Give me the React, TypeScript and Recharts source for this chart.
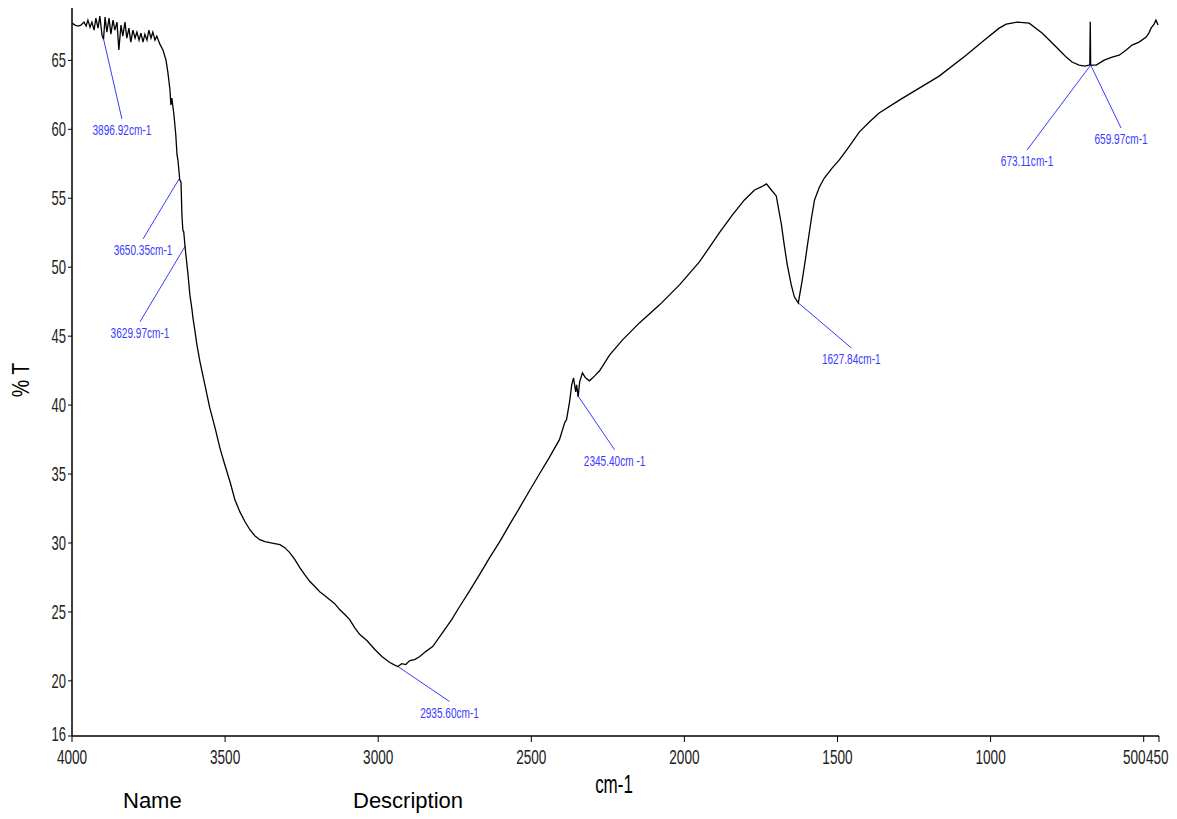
import {
  LineChart,
  Line,
  XAxis,
  YAxis,
  ReferenceLine,
  ReferenceDot,
} from "recharts";

// spectrum, descending wavenumber
const wavenumbers = [
  4000, 3990, 3980, 3971, 3961, 3954, 3948, 3941, 3935, 3928, 3922, 3915, 3909, 3902, 3897, 3892,
  3886, 3879, 3873, 3866, 3860, 3853, 3847, 3840, 3834, 3827, 3821, 3814, 3808, 3801, 3794, 3788,
  3781, 3775, 3768, 3762, 3755, 3749, 3742, 3736, 3729, 3723, 3713, 3703, 3693, 3687, 3680, 3677,
  3674, 3667, 3661, 3657, 3654, 3651, 3648, 3644, 3641, 3638, 3635, 3631, 3628, 3621, 3615, 3608,
  3605, 3599, 3592, 3582, 3566, 3550, 3533, 3517, 3501, 3484, 3468, 3452, 3435, 3419, 3403, 3387,
  3370, 3354, 3338, 3321, 3305, 3289, 3272, 3256, 3240, 3223, 3207, 3191, 3174, 3158, 3142, 3126,
  3109, 3093, 3077, 3060, 3037, 3011, 2988, 2962, 2949, 2936, 2923, 2910, 2897, 2881, 2864, 2845,
  2822, 2799, 2776, 2760, 2734, 2701, 2669, 2636, 2603, 2571, 2538, 2506, 2473, 2440, 2408, 2391,
  2385, 2375, 2368, 2362, 2355, 2352, 2347, 2342, 2333, 2323, 2310, 2293, 2277, 2244, 2202, 2147,
  2081, 2016, 1951, 1886, 1843, 1804, 1771, 1749, 1732, 1716, 1700, 1683, 1674, 1664, 1651, 1641,
  1628, 1615, 1605, 1598, 1585, 1575, 1559, 1543, 1517, 1494, 1461, 1429, 1396, 1364, 1298, 1233,
  1168, 1080, 1021, 972, 949, 913, 874, 832, 802, 776, 753, 734, 711, 692, 679, 676, 674.5, 673.11,
  655, 629, 603, 580, 557, 538, 515, 492, 483, 476, 466, 460, 453,
];

const transmittance = [
  67.7, 67.56, 67.49, 67.56, 67.78, 67.49, 67.92, 67.41, 67.78, 67.2, 68.07, 67.34, 68.21, 66.83, 66.54, 68.14,
  67.05, 68.07, 66.9, 67.92, 67.2, 67.78, 65.75, 67.56, 66.76, 67.78, 66.62, 67.34, 66.33, 67.2, 66.62, 67.05,
  66.47, 66.98, 66.33, 66.9, 66.47, 67.2, 66.62, 67.05, 66.47, 66.76, 66.18, 65.75, 65.02, 64.15, 62.85, 61.76,
  62.27, 61.04, 59.59, 58.14, 57.78, 57.05, 56.33, 56.18, 53.79, 52.7, 52.56, 51.54, 50.89, 49.44, 47.99, 46.9,
  46.33, 45.46, 44.37, 43.14, 41.47, 39.8, 38.36, 36.9, 35.67, 34.44, 33.14, 32.27, 31.54, 30.96, 30.53, 30.24,
  30.1, 30.02, 29.95, 29.88, 29.66, 29.3, 28.79, 28.21, 27.7, 27.2, 26.84, 26.47, 26.18, 25.89, 25.6, 25.17,
  24.81, 24.44, 23.86, 23.36, 22.92, 22.27, 21.76, 21.33, 21.18, 21.04, 21.25, 21.18, 21.47, 21.54, 21.76, 22.12,
  22.48, 23.2, 23.93, 24.44, 25.39, 26.54, 27.7, 28.94, 30.1, 31.33, 32.56, 33.79, 35.02, 36.25, 37.49, 38.72,
  38.94, 40.24, 41.47, 41.98, 40.96, 41.47, 40.6, 41.69, 42.34, 41.98, 41.76, 42.12, 42.49, 43.64, 44.73, 45.96,
  47.27, 48.72, 50.38, 52.49, 53.79, 54.88, 55.6, 55.82, 56.04, 55.6, 55.17, 53.07, 51.62, 50.17, 48.72, 47.85,
  47.41, 49.08, 50.53, 51.62, 53.57, 54.88, 55.82, 56.47, 57.2, 57.78, 58.79, 59.8, 60.53, 61.18, 62.12, 62.99,
  63.86, 65.38, 66.47, 67.34, 67.63, 67.78, 67.7, 66.98, 66.33, 65.75, 65.24, 64.88, 64.66, 64.59, 64.66, 64.7, 67.8, 64.66,
  64.66, 65.02, 65.24, 65.38, 65.75, 66.11, 66.33, 66.69, 66.98, 67.34, 67.63, 67.92, 67.56,
];

const xTicks = [4000, 3500, 3000, 2500, 2000, 1500, 1000, 500, 450];
const yTicks = [16, 20, 25, 30, 35, 40, 45, 50, 55, 60, 65];

// peak labels: peak point -> end of leader line
const peakLabels = ["3896.92cm-1", "3650.35cm-1", "3629.97cm-1", "2935.60cm-1", "2345.40cm -1", "1627.84cm-1", "673.11cm-1", "659.97cm-1"];
const peakWn = [3896.92, 3650.35, 3629.97, 2935.6, 2345.4, 1627.84, 673.11, 673.11];
const peakT = [66.54, 56.4, 51.54, 21.04, 40.6, 47.41, 64.66, 64.66];
const leaderWn = [3837, 3768, 3778, 2767, 2228, 1455, 881, 574];
const leaderT = [60.75, 52.05, 46.04, 18.5, 36.76, 44.15, 58.5, 60.1];

const data = wavenumbers.map((wn, i) => ({ wn, t: transmittance[i] }));

const FONT = "'Liberation Sans', Arial, sans-serif";
const BLUE = "#3a3aff";

function XTick({ x, y, payload }: any) {
  const v = payload.value;
  const anchor = v === 500 ? "end" : v === 450 ? "start" : "middle";
  const dx = v === 500 ? 2 : v === 450 ? -13 : 0;
  return (
    <text transform={`translate(${x + dx},${y + 20}) scale(0.68,1)`} textAnchor={anchor} fontFamily={FONT} fontSize={20} fill="#222">
      {v}
    </text>
  );
}

function YTick({ x, y, payload }: any) {
  const dy = payload.value === 16 ? -2 : 0;
  return (
    <text transform={`translate(${x},${y + dy + 7}) scale(0.65,1)`} textAnchor="end" fontFamily={FONT} fontSize={20} fill="#222">
      {payload.value}
    </text>
  );
}

export default function App() {
  return (
    <div style={{ position: "absolute", left: 0, top: 0, width: 1177, height: 819, background: "#fff" }}>
      <LineChart width={1177} height={819} data={data} margin={{ top: 8, right: 18, left: 0, bottom: 52 }}>
        <XAxis
          dataKey="wn"
          type="number"
          domain={[450, 4000]}
          reversed
          ticks={xTicks}
          interval={0}
          height={31}
          tickSize={6}
          tick={<XTick />}
          axisLine={{ stroke: "#000", strokeWidth: 1.5 }}
          tickLine={{ stroke: "#000" }}
        />
        <YAxis
          type="number"
          domain={[16, 68.8]}
          ticks={yTicks}
          interval={0}
          width={72}
          tickSize={4}
          allowDataOverflow
          tick={<YTick />}
          axisLine={{ stroke: "#000", strokeWidth: 1.5 }}
          tickLine={{ stroke: "#000" }}
        />
        {peakLabels.map((label, i) => (
          <ReferenceLine
            key={"l" + i}
            segment={[
              { x: peakWn[i], y: peakT[i] },
              { x: leaderWn[i], y: leaderT[i] },
            ]}
            stroke={BLUE}
            strokeWidth={1}
            ifOverflow="visible"
          />
        ))}
        <Line
          type="linear"
          dataKey="t"
          stroke="#000"
          strokeWidth={1.3}
          dot={false}
          isAnimationActive={false}
        />
        {peakLabels.map((label, i) => (
          <ReferenceDot
            key={"d" + i}
            x={leaderWn[i]}
            y={leaderT[i]}
            r={0}
            ifOverflow="visible"
            shape={(p: any) => (
              <text transform={`translate(${p.cx},${p.cy + 16}) scale(0.72,1)`} textAnchor="middle" fontFamily={FONT} fontSize={14} fill={BLUE}>
                {label}
              </text>
            )}
          />
        ))}
      </LineChart>
      <svg width={1177} height={819} style={{ position: "absolute", left: 0, top: 0, pointerEvents: "none" }}>
        <text transform="translate(614,793) scale(0.68,1)" textAnchor="middle" fontFamily={FONT} fontSize={25} fill="#000">
          cm-1
        </text>
        <text transform="translate(29,380) rotate(-90) scale(0.85,1)" textAnchor="middle" fontFamily={FONT} fontSize={23} fill="#000">
          % T
        </text>
      </svg>
      <div style={{ position: "absolute", left: 123, top: 788, fontFamily: FONT, fontSize: 22, color: "#000" }}>
        Name
      </div>
      <div style={{ position: "absolute", left: 353, top: 788, fontFamily: FONT, fontSize: 22, color: "#000" }}>
        Description
      </div>
    </div>
  );
}
